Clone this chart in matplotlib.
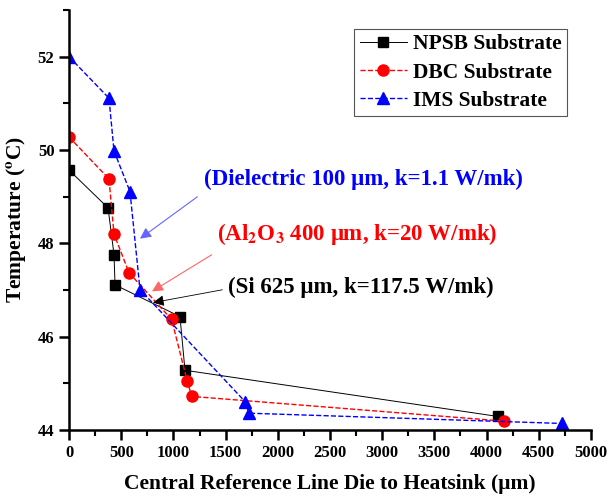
import numpy as np
import matplotlib.pyplot as plt
from matplotlib.ticker import MultipleLocator

plt.rcParams['font.family'] = ['Liberation Serif', 'DejaVu Serif']
plt.rcParams['font.weight'] = 'bold'
plt.rcParams['mathtext.fontset'] = 'stix'

# Data
npsb_x = [0, 374, 431, 441, 1063, 1111, 4109]
npsb_y = [49.57, 48.76, 47.76, 47.11, 46.43, 45.28, 44.29]

dbc_x = [0, 383, 431, 575, 983, 1131, 1176, 4167]
dbc_y = [50.28, 49.38, 48.20, 47.37, 46.37, 45.06, 44.72, 44.19]

ims_x = [0, 383, 431, 584, 680, 1686, 1724, 4722]
ims_y = [52.0, 51.11, 49.98, 49.11, 47.01, 44.61, 44.36, 44.14]

fig = plt.figure(figsize=(6.08, 5.0), dpi=100)
ax = fig.add_axes([0.1135, 0.14, 0.8585, 0.84])

ax.plot(npsb_x, npsb_y, '-', color='black', lw=0.7, marker='s', ms=7,
        label='NPSB Substrate')
ax.plot(dbc_x, dbc_y, '--', color='red', lw=1.0, marker='o', ms=8,
        label='DBC Substrate')
ax.plot(ims_x, ims_y, '--', color='blue', lw=1.0, marker='^', ms=8,
        label='IMS Substrate')

# annotations
ax.annotate('(Dielectric 100 \u03bcm, k=1.1 W/mk)', xy=(680, 48.10), xytext=(1290, 49.36),
            color='blue', fontsize=16.5, fontweight='bold', va='center',
            arrowprops=dict(arrowstyle='-|>', color='#6666ff', lw=0.8, shrinkA=0, shrinkB=0,
                            relpos=(-0.02, -0.3)))
ax.annotate('(Al$_\\mathbf{2}$O$_\\mathbf{3}$ 400 \u03bcm, k=20 W/mk)', xy=(795, 46.97), xytext=(1420, 48.2),
            color='red', fontsize=16.5, fontweight='bold', va='center',
            arrowprops=dict(arrowstyle='-|>', color='#ff6666', lw=0.8, shrinkA=0, shrinkB=0,
                            relpos=(-0.02, -0.3)))
ax.annotate('(Si 625 \u03bcm, k=117.5 W/mk)', xy=(805, 46.73), xytext=(1520, 47.05),
            color='black', fontsize=16.5, fontweight='bold', va='center',
            arrowprops=dict(arrowstyle='-|>', color='black', lw=0.6, shrinkA=0, shrinkB=0,
                            relpos=(-0.02, 0.4)))

ax.set_xlim(0, 5000)
ax.set_ylim(44, 53)
ax.xaxis.set_major_locator(MultipleLocator(500))
ax.xaxis.set_minor_locator(MultipleLocator(250))
ax.yaxis.set_major_locator(MultipleLocator(2))
ax.yaxis.set_minor_locator(MultipleLocator(1))

ax.spines['top'].set_visible(False)
ax.spines['right'].set_visible(False)
ax.spines['left'].set_linewidth(1.8)
ax.spines['bottom'].set_linewidth(1.8)
ax.tick_params(which='major', direction='out', length=7, width=1.8, labelsize=12)
ax.tick_params(which='minor', direction='out', length=4, width=1.5)
for lab in ax.get_xticklabels() + ax.get_yticklabels():
    lab.set_fontweight('bold')

ax.set_xlabel('Central Reference Line Die to Heatsink (\u03bcm)', fontsize=15.5, fontweight='bold',
              labelpad=10)
ax.set_ylabel('Temperature ($^\\mathbf{o}$C)', fontsize=15.5, fontweight='bold', labelpad=6)

leg = ax.legend(loc='upper right', bbox_to_anchor=(0.955, 0.955), fontsize=15.5,
                fancybox=False, edgecolor='#555555', framealpha=1, handlelength=2.2,
                borderpad=0.25, labelspacing=0.38, handletextpad=0.3, borderaxespad=0)
leg.get_frame().set_linewidth(0.8)
for t in leg.get_texts():
    t.set_fontweight('bold')

fig.savefig('out.png', dpi=100)
